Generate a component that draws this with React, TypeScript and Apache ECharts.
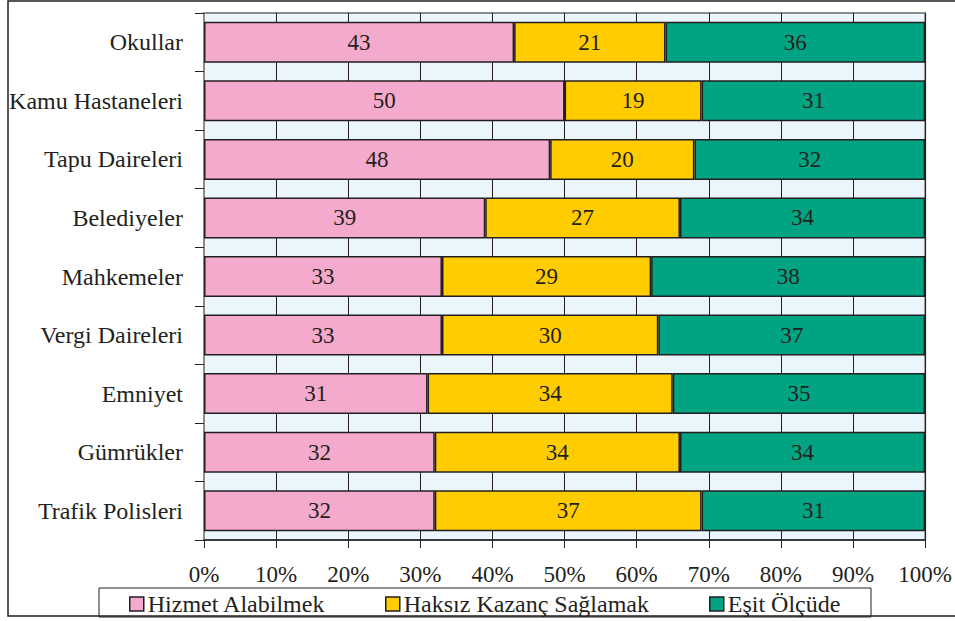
import React, { useEffect, useRef } from "react";
import * as echarts from "echarts";

const categories = [
  "Okullar",
  "Kamu Hastaneleri",
  "Tapu Daireleri",
  "Belediyeler",
  "Mahkemeler",
  "Vergi Daireleri",
  "Emniyet",
  "Gümrükler",
  "Trafik Polisleri",
];
const hizmet = [43, 50, 48, 39, 33, 33, 31, 32, 32];
const haksiz = [21, 19, 20, 27, 29, 30, 34, 34, 37];
const esit = [36, 31, 32, 34, 38, 37, 35, 34, 31];
const seriesNames = ["Hizmet Alabilmek", "Haksız Kazanç Sağlamak", "Eşit Ölçüde"];
const colors = ["#F4AACC", "#FFCC00", "#00A482"];
const xTicks = [0, 10, 20, 30, 40, 50, 60, 70, 80, 90, 100];

const FONT = "Liberation Serif";
const INK = "#231F20";

export default function App() {
  const ref = useRef<HTMLDivElement>(null);
  useEffect(() => {
    document.body.style.margin = "0";
    const chart = echarts.init(ref.current!, null, { renderer: "svg" });
    const values = [hizmet, haksiz, esit];
    const legendLefts = [129, 385, 709];
    chart.setOption({
      animation: false,
      textStyle: { fontFamily: FONT },
      grid: {
        left: 204,
        right: 27,
        top: 13,
        bottom: 81,
        show: true,
        backgroundColor: "#EAF6FC",
        borderColor: "#8C8C8C",
        borderWidth: 2,
        containLabel: false,
      },
      xAxis: {
        type: "value",
        min: xTicks[0],
        max: xTicks[xTicks.length - 1],
        interval: 10,
        axisLine: { show: true, lineStyle: { color: INK, width: 1.5 } },
        axisTick: { show: true, length: 8, lineStyle: { color: INK, width: 1 } },
        splitLine: { show: true, lineStyle: { color: INK, width: 1 } },
        axisLabel: {
          margin: 23,
          fontSize: 23,
          fontFamily: FONT,
          color: INK,
          formatter: (v: number) => v + "%",
        },
      },
      yAxis: {
        type: "category",
        data: categories,
        inverse: true,
        axisLine: { show: true, lineStyle: { color: "#8C8C8C", width: 2 } },
        axisTick: { show: true, length: 9, lineStyle: { color: INK, width: 1 } },
        axisLabel: { margin: 21, fontSize: 24, fontFamily: FONT, color: INK },
      },
      legend: seriesNames.map((n, i) => ({
        data: [n],
        left: legendLefts[i],
        top: 592,
        padding: 0,
        itemWidth: 14,
        itemHeight: 14,
        itemGap: 0,
        z: 10,
        icon: "rect",
        textStyle: { fontSize: 24, fontFamily: FONT, color: INK, padding: [0, 0, 0, -1], lineHeight: 24 },
        itemStyle: { borderColor: INK, borderWidth: 1.5 },
      })),
      graphic: [
        {
          type: "rect",
          z: 100,
          silent: true,
          shape: { x: 8, y: 1, width: 1000, height: 615 },
          style: { fill: "none", stroke: INK, lineWidth: 1.5 },
        },
        {
          type: "rect",
          z: 1,
          silent: true,
          shape: { x: 99, y: 588, width: 772, height: 29 },
          style: { fill: "#ffffff", stroke: INK, lineWidth: 1 },
        },
      ],
      series: seriesNames.map((n, i) => ({
        name: n,
        type: "bar",
        stack: "total",
        data: values[i],
        barCategoryGap: "30%",
        itemStyle: { color: colors[i], borderColor: INK, borderWidth: 1.5 },
        label: {
          show: true,
          position: "inside",
          fontSize: 23,
          fontFamily: FONT,
          color: INK,
        },
      })),
    });
    return () => chart.dispose();
  }, []);
  return <div ref={ref} style={{ width: 955, height: 621 }} />;
}
